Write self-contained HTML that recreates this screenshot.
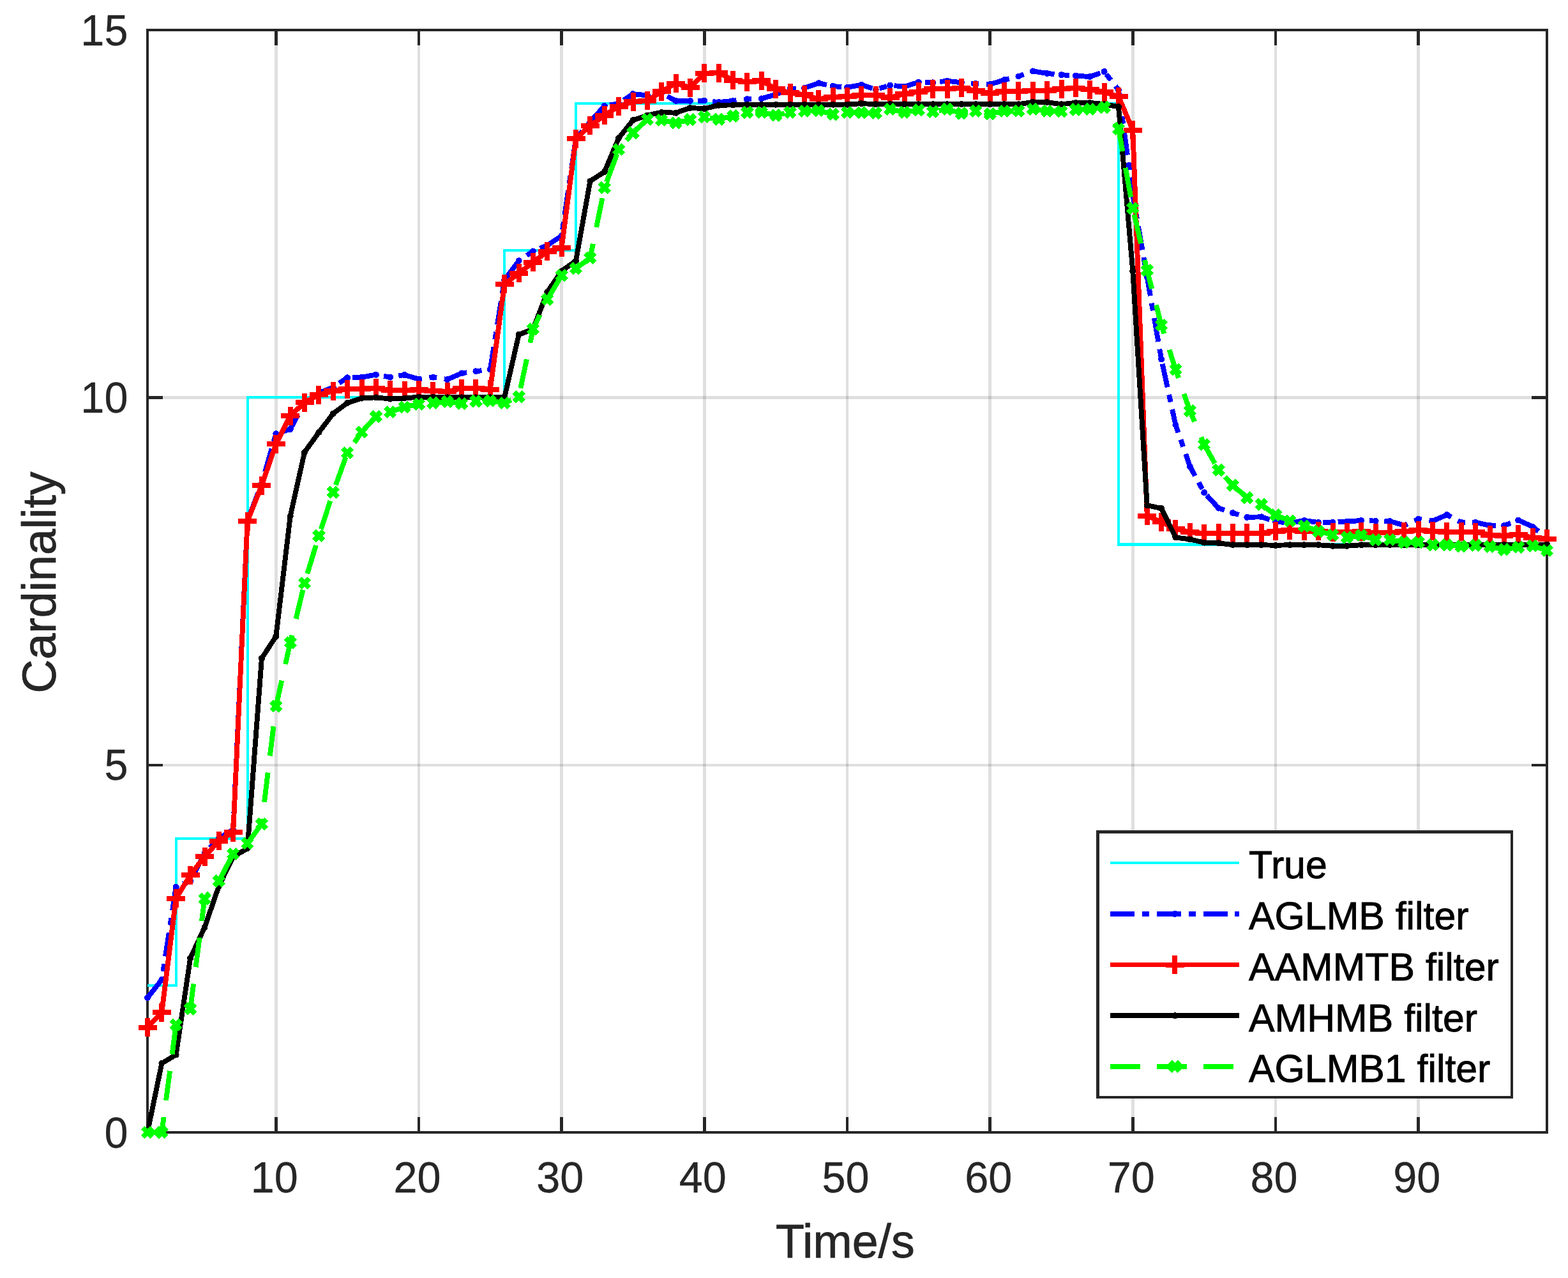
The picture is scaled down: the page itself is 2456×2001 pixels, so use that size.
<!DOCTYPE html>
<html lang="en">
<head>
<meta charset="utf-8">
<title>Cardinality versus Time</title>
<style>
html,body{margin:0;padding:0;background:#fff;}
body{width:2456px;height:2001px;overflow:hidden;}
svg{display:block;}
text{font-family:"Liberation Sans", sans-serif;}
.tk{font-size:66.67px;fill:#262626;stroke:#262626;stroke-width:0.3px;}
.lb{font-size:73.5px;fill:#262626;stroke:#262626;stroke-width:0.8px;}
.lg{font-size:60.8px;fill:#000;stroke:#000;stroke-width:0.9px;}
</style>
</head>
<body>
<svg width="2456" height="2001" viewBox="0 0 2456 2001">
<rect width="2456" height="2001" fill="#fff"/>
<g id="grid" fill="#262626" fill-opacity="0.15">
<path d="M430 71H435V1749H430zM654 71H658V1749H654zM877 71H882V1749H877zM1101 71H1106V1749H1101zM1325 71H1329V1749H1325zM1548 71H1553V1749H1548zM1772 71H1777V1749H1772zM1996 71H2000V1749H1996zM2219 71H2224V1749H2219z"/>
<path d="M255 1196H2399V1200H255zM255 620H2399V625H255z"/>
</g>
<g id="axes" fill="#262626">
<path fill-rule="evenodd" d="M229 45H2425V1775H229zM233 49V1771H2421V49z"/>
<path d="M430 1749H435V1773H430zM430 47H435V71H430zM654 1749H658V1773H654zM654 47H658V71H654zM877 1749H882V1773H877zM877 47H882V71H877zM1101 1749H1106V1773H1101zM1101 47H1106V71H1101zM1325 1749H1329V1773H1325zM1325 47H1329V71H1325zM1548 1749H1553V1773H1548zM1548 47H1553V71H1548zM1772 1749H1777V1773H1772zM1772 47H1777V71H1772zM1996 1749H2000V1773H1996zM1996 47H2000V71H1996zM2219 1749H2224V1773H2219zM2219 47H2224V71H2219zM231 1196H255V1200H231zM2399 1196H2423V1200H2399zM231 620H255V625H231zM2399 620H2423V625H2399z"/>
</g>
<g id="series" fill="none" stroke-linejoin="round" shape-rendering="crispEdges">
<polyline id="true" stroke="#00ffff" stroke-width="4.2" stroke-linejoin="miter" points="231,1542.9 275.7,1542.9 275.7,1312.7 387.6,1312.7 387.6,622.3 790.2,622.3 790.2,392.2 902,392.2 902,162.1 1752,162.1 1752,852.5 2423,852.5"/>
<g id="aglmb">
<polyline stroke="#0000ff" stroke-width="7.9" stroke-dasharray="37.5 11.8 11.8 11.8" stroke-dashoffset="0" points="231,1562.2 253.4,1534 275.7,1388.8 298.1,1379.5 320.5,1335.7 342.8,1312.7 365.2,1298.9 387.6,815.6"/>
<polyline stroke="#0000ff" stroke-width="7.9" stroke-dasharray="37.5 11.8 11.8 11.8" stroke-dashoffset="64" points="387.6,815.6 409.9,757 432.3,679.2 454.7,671.9 477,630.4 499.4,615.4 521.8,606.2 544.1,591.3 566.5,590.6 588.9,586.7 611.2,590.6 633.6,587 656,593.6 678.3,590.6 700.7,594.1 723.1,584.4 745.4,581.3 767.8,578.6 790.2,438.2"/>
<polyline stroke="#0000ff" stroke-width="7.9" stroke-dasharray="37.5 11.8 11.8 11.8" stroke-dashoffset="69.9" points="790.2,438.2 812.6,408.3 834.9,393.4 857.3,384.1 879.7,369.2 902,217.3"/>
<polyline stroke="#0000ff" stroke-width="7.9" stroke-dasharray="37.5 11.8 11.8 11.8" stroke-dashoffset="45.7" points="902,217.3 924.4,190.8 946.8,165.9 969.1,162.1 991.5,147.1 1013.9,149.4 1036.2,146 1058.6,157.9 1081,157.9 1103.3,157.5 1125.7,160.1 1148.1,157.9 1170.4,155.2 1192.8,154.4 1215.2,147.9 1237.5,139.1 1259.9,137.9 1282.3,130.2 1304.6,135 1327,136.8 1349.4,132.8 1371.7,140.2 1394.1,133.6 1416.5,135.6 1438.8,128.7 1461.2,129.3 1483.6,126.7 1505.9,129.3 1528.3,131 1550.7,132.1 1573,125.2 1595.4,119.5 1617.8,111.4 1640.1,114.9 1662.5,117.2 1684.9,118.6 1707.2,120.1 1729.6,112.1 1752,140.8 1774.3,304.7"/>
<polyline stroke="#0000ff" stroke-width="7.9" stroke-dasharray="37.5 11.8 11.8 11.8" stroke-dashoffset="22.5" points="1774.3,304.7 1796.7,433.6 1819.1,562.5 1841.4,665.4 1863.8,730.2 1886.2,771.2 1908.6,795.6 1930.9,803 1953.3,809.9 1975.7,809.3 1998,816.5 2020.4,819.1 2042.8,815 2065.1,817.9 2087.5,817.9 2109.9,816.5 2132.2,815 2154.6,815.6 2177,816.1 2199.3,822.5 2221.7,812.9 2244.1,815.6 2266.4,806.1 2288.8,817.9 2311.2,817.9 2333.5,822.9 2355.9,822.9 2378.3,814.5 2400.6,824.5 2423,842.5"/>
</g>
<path fill="#0000ff" stroke="none" d="M226 1562.2a5 5 0 1 0 10 0a5 5 0 1 0 -10 0zM248.4 1534a5 5 0 1 0 10 0a5 5 0 1 0 -10 0zM270.7 1388.8a5 5 0 1 0 10 0a5 5 0 1 0 -10 0zM293.1 1379.5a5 5 0 1 0 10 0a5 5 0 1 0 -10 0zM315.5 1335.7a5 5 0 1 0 10 0a5 5 0 1 0 -10 0zM337.8 1312.7a5 5 0 1 0 10 0a5 5 0 1 0 -10 0zM360.2 1298.9a5 5 0 1 0 10 0a5 5 0 1 0 -10 0zM382.6 815.6a5 5 0 1 0 10 0a5 5 0 1 0 -10 0zM404.9 757a5 5 0 1 0 10 0a5 5 0 1 0 -10 0zM427.3 679.2a5 5 0 1 0 10 0a5 5 0 1 0 -10 0zM449.7 671.9a5 5 0 1 0 10 0a5 5 0 1 0 -10 0zM472 630.4a5 5 0 1 0 10 0a5 5 0 1 0 -10 0zM494.4 615.4a5 5 0 1 0 10 0a5 5 0 1 0 -10 0zM516.8 606.2a5 5 0 1 0 10 0a5 5 0 1 0 -10 0zM539.1 591.3a5 5 0 1 0 10 0a5 5 0 1 0 -10 0zM561.5 590.6a5 5 0 1 0 10 0a5 5 0 1 0 -10 0zM583.9 586.7a5 5 0 1 0 10 0a5 5 0 1 0 -10 0zM606.2 590.6a5 5 0 1 0 10 0a5 5 0 1 0 -10 0zM628.6 587a5 5 0 1 0 10 0a5 5 0 1 0 -10 0zM651 593.6a5 5 0 1 0 10 0a5 5 0 1 0 -10 0zM673.3 590.6a5 5 0 1 0 10 0a5 5 0 1 0 -10 0zM695.7 594.1a5 5 0 1 0 10 0a5 5 0 1 0 -10 0zM718.1 584.4a5 5 0 1 0 10 0a5 5 0 1 0 -10 0zM740.4 581.3a5 5 0 1 0 10 0a5 5 0 1 0 -10 0zM762.8 578.6a5 5 0 1 0 10 0a5 5 0 1 0 -10 0zM785.2 438.2a5 5 0 1 0 10 0a5 5 0 1 0 -10 0zM807.6 408.3a5 5 0 1 0 10 0a5 5 0 1 0 -10 0zM829.9 393.4a5 5 0 1 0 10 0a5 5 0 1 0 -10 0zM852.3 384.1a5 5 0 1 0 10 0a5 5 0 1 0 -10 0zM874.7 369.2a5 5 0 1 0 10 0a5 5 0 1 0 -10 0zM897 217.3a5 5 0 1 0 10 0a5 5 0 1 0 -10 0zM919.4 190.8a5 5 0 1 0 10 0a5 5 0 1 0 -10 0zM941.8 165.9a5 5 0 1 0 10 0a5 5 0 1 0 -10 0zM964.1 162.1a5 5 0 1 0 10 0a5 5 0 1 0 -10 0zM986.5 147.1a5 5 0 1 0 10 0a5 5 0 1 0 -10 0zM1008.9 149.4a5 5 0 1 0 10 0a5 5 0 1 0 -10 0zM1031.2 146a5 5 0 1 0 10 0a5 5 0 1 0 -10 0zM1053.6 157.9a5 5 0 1 0 10 0a5 5 0 1 0 -10 0zM1076 157.9a5 5 0 1 0 10 0a5 5 0 1 0 -10 0zM1098.3 157.5a5 5 0 1 0 10 0a5 5 0 1 0 -10 0zM1120.7 160.1a5 5 0 1 0 10 0a5 5 0 1 0 -10 0zM1143.1 157.9a5 5 0 1 0 10 0a5 5 0 1 0 -10 0zM1165.4 155.2a5 5 0 1 0 10 0a5 5 0 1 0 -10 0zM1187.8 154.4a5 5 0 1 0 10 0a5 5 0 1 0 -10 0zM1210.2 147.9a5 5 0 1 0 10 0a5 5 0 1 0 -10 0zM1232.5 139.1a5 5 0 1 0 10 0a5 5 0 1 0 -10 0zM1254.9 137.9a5 5 0 1 0 10 0a5 5 0 1 0 -10 0zM1277.3 130.2a5 5 0 1 0 10 0a5 5 0 1 0 -10 0zM1299.6 135a5 5 0 1 0 10 0a5 5 0 1 0 -10 0zM1322 136.8a5 5 0 1 0 10 0a5 5 0 1 0 -10 0zM1344.4 132.8a5 5 0 1 0 10 0a5 5 0 1 0 -10 0zM1366.7 140.2a5 5 0 1 0 10 0a5 5 0 1 0 -10 0zM1389.1 133.6a5 5 0 1 0 10 0a5 5 0 1 0 -10 0zM1411.5 135.6a5 5 0 1 0 10 0a5 5 0 1 0 -10 0zM1433.8 128.7a5 5 0 1 0 10 0a5 5 0 1 0 -10 0zM1456.2 129.3a5 5 0 1 0 10 0a5 5 0 1 0 -10 0zM1478.6 126.7a5 5 0 1 0 10 0a5 5 0 1 0 -10 0zM1500.9 129.3a5 5 0 1 0 10 0a5 5 0 1 0 -10 0zM1523.3 131a5 5 0 1 0 10 0a5 5 0 1 0 -10 0zM1545.7 132.1a5 5 0 1 0 10 0a5 5 0 1 0 -10 0zM1568 125.2a5 5 0 1 0 10 0a5 5 0 1 0 -10 0zM1590.4 119.5a5 5 0 1 0 10 0a5 5 0 1 0 -10 0zM1612.8 111.4a5 5 0 1 0 10 0a5 5 0 1 0 -10 0zM1635.1 114.9a5 5 0 1 0 10 0a5 5 0 1 0 -10 0zM1657.5 117.2a5 5 0 1 0 10 0a5 5 0 1 0 -10 0zM1679.9 118.6a5 5 0 1 0 10 0a5 5 0 1 0 -10 0zM1702.2 120.1a5 5 0 1 0 10 0a5 5 0 1 0 -10 0zM1724.6 112.1a5 5 0 1 0 10 0a5 5 0 1 0 -10 0zM1747 140.8a5 5 0 1 0 10 0a5 5 0 1 0 -10 0zM1769.3 304.7a5 5 0 1 0 10 0a5 5 0 1 0 -10 0zM1791.7 433.6a5 5 0 1 0 10 0a5 5 0 1 0 -10 0zM1814.1 562.5a5 5 0 1 0 10 0a5 5 0 1 0 -10 0zM1836.4 665.4a5 5 0 1 0 10 0a5 5 0 1 0 -10 0zM1858.8 730.2a5 5 0 1 0 10 0a5 5 0 1 0 -10 0zM1881.2 771.2a5 5 0 1 0 10 0a5 5 0 1 0 -10 0zM1903.6 795.6a5 5 0 1 0 10 0a5 5 0 1 0 -10 0zM1925.9 803a5 5 0 1 0 10 0a5 5 0 1 0 -10 0zM1948.3 809.9a5 5 0 1 0 10 0a5 5 0 1 0 -10 0zM1970.7 809.3a5 5 0 1 0 10 0a5 5 0 1 0 -10 0zM1993 816.5a5 5 0 1 0 10 0a5 5 0 1 0 -10 0zM2015.4 819.1a5 5 0 1 0 10 0a5 5 0 1 0 -10 0zM2037.8 815a5 5 0 1 0 10 0a5 5 0 1 0 -10 0zM2060.1 817.9a5 5 0 1 0 10 0a5 5 0 1 0 -10 0zM2082.5 817.9a5 5 0 1 0 10 0a5 5 0 1 0 -10 0zM2104.9 816.5a5 5 0 1 0 10 0a5 5 0 1 0 -10 0zM2127.2 815a5 5 0 1 0 10 0a5 5 0 1 0 -10 0zM2149.6 815.6a5 5 0 1 0 10 0a5 5 0 1 0 -10 0zM2172 816.1a5 5 0 1 0 10 0a5 5 0 1 0 -10 0zM2194.3 822.5a5 5 0 1 0 10 0a5 5 0 1 0 -10 0zM2216.7 812.9a5 5 0 1 0 10 0a5 5 0 1 0 -10 0zM2239.1 815.6a5 5 0 1 0 10 0a5 5 0 1 0 -10 0zM2261.4 806.1a5 5 0 1 0 10 0a5 5 0 1 0 -10 0zM2283.8 817.9a5 5 0 1 0 10 0a5 5 0 1 0 -10 0zM2306.2 817.9a5 5 0 1 0 10 0a5 5 0 1 0 -10 0zM2328.5 822.9a5 5 0 1 0 10 0a5 5 0 1 0 -10 0zM2350.9 822.9a5 5 0 1 0 10 0a5 5 0 1 0 -10 0zM2373.3 814.5a5 5 0 1 0 10 0a5 5 0 1 0 -10 0zM2395.6 824.5a5 5 0 1 0 10 0a5 5 0 1 0 -10 0zM2418 842.5a5 5 0 1 0 10 0a5 5 0 1 0 -10 0z"/>
<polyline id="aammtb" stroke="#ff0000" stroke-width="7.9" points="231,1608.6 253.4,1585 275.7,1406.6 298.1,1370.3 320.5,1341 342.8,1316.8 365.2,1303.2 387.6,816.1 409.9,760 432.3,695.1 454.7,651.1 477,630.2 499.4,618 521.8,612.2 544.1,609.3 566.5,608.5 588.9,607.8 611.2,610.8 633.6,611.4 656,610.3 678.3,612 700.7,613.1 723.1,608.1 745.4,608.1 767.8,609.7 790.2,444.9 812.6,427.9 834.9,410.6 857.3,393.8 879.7,387.6 902,217.1 924.4,196.8 946.8,180.7 969.1,166.7 991.5,159.4 1013.9,157.7 1036.2,143.2 1058.6,130.5 1081,137.1 1103.3,114.9 1125.7,114 1148.1,125.5 1170.4,128.4 1192.8,126.4 1215.2,139.1 1237.5,145.3 1259.9,148.3 1282.3,155.2 1304.6,151.9 1327,151 1349.4,149.1 1371.7,149.4 1394.1,152.9 1416.5,147.1 1438.8,143.7 1461.2,139.1 1483.6,139.1 1505.9,137.9 1528.3,141.9 1550.7,146.2 1573,143.4 1595.4,142.5 1617.8,142.3 1640.1,141.9 1662.5,139.1 1684.9,137.9 1707.2,140.2 1729.6,144.2 1752,151 1774.3,203.7 1796.7,807.6 1819.1,817.3 1841.4,828 1863.8,833 1886.2,835.2 1908.6,834.5 1930.9,834.5 1953.3,834.5 1975.7,834.5 1998,831.8 2020.4,830.1 2042.8,831.8 2065.1,831.8 2087.5,833.1 2109.9,833.1 2132.2,832.3 2154.6,834.1 2177,834.1 2199.3,832.1 2221.7,830.1 2244.1,831.8 2266.4,832.6 2288.8,832.6 2311.2,833 2333.5,837.5 2355.9,838.7 2378.3,836.7 2400.6,841.7 2423,843.8"/>
<path stroke="#ff0000" stroke-width="8.0" d="M216.5 1608.6h29M231 1594.1v29M238.9 1585h29M253.4 1570.5v29M261.2 1406.6h29M275.7 1392.1v29M283.6 1370.3h29M298.1 1355.8v29M306 1341h29M320.5 1326.5v29M328.3 1316.8h29M342.8 1302.3v29M350.7 1303.2h29M365.2 1288.7v29M373.1 816.1h29M387.6 801.6v29M395.4 760h29M409.9 745.5v29M417.8 695.1h29M432.3 680.6v29M440.2 651.1h29M454.7 636.6v29M462.5 630.2h29M477 615.7v29M484.9 618h29M499.4 603.5v29M507.3 612.2h29M521.8 597.7v29M529.6 609.3h29M544.1 594.8v29M552 608.5h29M566.5 594v29M574.4 607.8h29M588.9 593.3v29M596.7 610.8h29M611.2 596.3v29M619.1 611.4h29M633.6 596.9v29M641.5 610.3h29M656 595.8v29M663.8 612h29M678.3 597.5v29M686.2 613.1h29M700.7 598.6v29M708.6 608.1h29M723.1 593.6v29M730.9 608.1h29M745.4 593.6v29M753.3 609.7h29M767.8 595.2v29M775.7 444.9h29M790.2 430.4v29M798.1 427.9h29M812.6 413.4v29M820.4 410.6h29M834.9 396.1v29M842.8 393.8h29M857.3 379.3v29M865.2 387.6h29M879.7 373.1v29M887.5 217.1h29M902 202.6v29M909.9 196.8h29M924.4 182.3v29M932.3 180.7h29M946.8 166.2v29M954.6 166.7h29M969.1 152.2v29M977 159.4h29M991.5 144.9v29M999.4 157.7h29M1013.9 143.2v29M1021.7 143.2h29M1036.2 128.7v29M1044.1 130.5h29M1058.6 116v29M1066.5 137.1h29M1081 122.6v29M1088.8 114.9h29M1103.3 100.4v29M1111.2 114h29M1125.7 99.5v29M1133.6 125.5h29M1148.1 111v29M1155.9 128.4h29M1170.4 113.9v29M1178.3 126.4h29M1192.8 111.9v29M1200.7 139.1h29M1215.2 124.6v29M1223 145.3h29M1237.5 130.8v29M1245.4 148.3h29M1259.9 133.8v29M1267.8 155.2h29M1282.3 140.7v29M1290.1 151.9h29M1304.6 137.4v29M1312.5 151h29M1327 136.5v29M1334.9 149.1h29M1349.4 134.6v29M1357.2 149.4h29M1371.7 134.9v29M1379.6 152.9h29M1394.1 138.4v29M1402 147.1h29M1416.5 132.6v29M1424.3 143.7h29M1438.8 129.2v29M1446.7 139.1h29M1461.2 124.6v29M1469.1 139.1h29M1483.6 124.6v29M1491.4 137.9h29M1505.9 123.4v29M1513.8 141.9h29M1528.3 127.4v29M1536.2 146.2h29M1550.7 131.7v29M1558.5 143.4h29M1573 128.9v29M1580.9 142.5h29M1595.4 128v29M1603.3 142.3h29M1617.8 127.8v29M1625.6 141.9h29M1640.1 127.4v29M1648 139.1h29M1662.5 124.6v29M1670.4 137.9h29M1684.9 123.4v29M1692.7 140.2h29M1707.2 125.7v29M1715.1 144.2h29M1729.6 129.7v29M1737.5 151h29M1752 136.5v29M1759.8 203.7h29M1774.3 189.2v29M1782.2 807.6h29M1796.7 793.1v29M1804.6 817.3h29M1819.1 802.8v29M1826.9 828h29M1841.4 813.5v29M1849.3 833h29M1863.8 818.5v29M1871.7 835.2h29M1886.2 820.7v29M1894.1 834.5h29M1908.6 820v29M1916.4 834.5h29M1930.9 820v29M1938.8 834.5h29M1953.3 820v29M1961.2 834.5h29M1975.7 820v29M1983.5 831.8h29M1998 817.3v29M2005.9 830.1h29M2020.4 815.6v29M2028.3 831.8h29M2042.8 817.3v29M2050.6 831.8h29M2065.1 817.3v29M2073 833.1h29M2087.5 818.6v29M2095.4 833.1h29M2109.9 818.6v29M2117.7 832.3h29M2132.2 817.8v29M2140.1 834.1h29M2154.6 819.6v29M2162.5 834.1h29M2177 819.6v29M2184.8 832.1h29M2199.3 817.6v29M2207.2 830.1h29M2221.7 815.6v29M2229.6 831.8h29M2244.1 817.3v29M2251.9 832.6h29M2266.4 818.1v29M2274.3 832.6h29M2288.8 818.1v29M2296.7 833h29M2311.2 818.5v29M2319 837.5h29M2333.5 823v29M2341.4 838.7h29M2355.9 824.2v29M2363.8 836.7h29M2378.3 822.2v29M2386.1 841.7h29M2400.6 827.2v29M2408.5 843.8h29M2423 829.3v29"/>
<polyline id="amhmb" stroke="#000000" stroke-width="7.9" points="231,1773 253.4,1664.8 275.7,1651.5 298.1,1500.3 320.5,1452 342.8,1387.5 365.2,1341.5 387.6,1328.4 409.9,1030.8 432.3,996.3 454.7,808.2 477,708.1 499.4,677 521.8,647.6 544.1,630.8 566.5,623.5 588.9,622.3 611.2,624.6 633.6,623.5 656,621.6 678.3,621.6 700.7,622.3 723.1,622.3 745.4,622.3 767.8,622.3 790.2,622.3 812.6,524 834.9,515.3 857.3,457.2 879.7,424.4 902,408.3 924.4,283.5 946.8,269.1 969.1,216.1 991.5,188.2 1013.9,180.5 1036.2,175.9 1058.6,176.7 1081,169 1103.3,170.1 1125.7,164.8 1148.1,164.4 1170.4,163.7 1192.8,163.7 1215.2,163.7 1237.5,163.7 1259.9,163.7 1282.3,163.7 1304.6,163.7 1327,163.7 1349.4,162.1 1371.7,163.2 1394.1,163.2 1416.5,163.2 1438.8,163.2 1461.2,163.2 1483.6,163.2 1505.9,163.2 1528.3,163.2 1550.7,163.2 1573,163.2 1595.4,163.2 1617.8,159.8 1640.1,160.1 1662.5,163.2 1684.9,160.9 1707.2,160.9 1729.6,163.2 1752,167.2 1774.3,424.4 1796.7,791.1 1819.1,796.1 1841.4,841.5 1863.8,844.4 1886.2,849.6 1908.6,850.2 1930.9,853.2 1953.3,853.2 1975.7,853.2 1998,853.8 2020.4,853.2 2042.8,853.2 2065.1,853.2 2087.5,854.8 2109.9,854.8 2132.2,853.2 2154.6,853.2 2177,853.2 2199.3,853.2 2221.7,853.2 2244.1,853.2 2266.4,853.2 2288.8,853.2 2311.2,853.2 2333.5,853.2 2355.9,853.2 2378.3,853.2 2400.6,853.2 2423,852.5"/>
<path fill="#000000" stroke="none" d="M226 1773a5 5 0 1 0 10 0a5 5 0 1 0 -10 0zM248.4 1664.8a5 5 0 1 0 10 0a5 5 0 1 0 -10 0zM270.7 1651.5a5 5 0 1 0 10 0a5 5 0 1 0 -10 0zM293.1 1500.3a5 5 0 1 0 10 0a5 5 0 1 0 -10 0zM315.5 1452a5 5 0 1 0 10 0a5 5 0 1 0 -10 0zM337.8 1387.5a5 5 0 1 0 10 0a5 5 0 1 0 -10 0zM360.2 1341.5a5 5 0 1 0 10 0a5 5 0 1 0 -10 0zM382.6 1328.4a5 5 0 1 0 10 0a5 5 0 1 0 -10 0zM404.9 1030.8a5 5 0 1 0 10 0a5 5 0 1 0 -10 0zM427.3 996.3a5 5 0 1 0 10 0a5 5 0 1 0 -10 0zM449.7 808.2a5 5 0 1 0 10 0a5 5 0 1 0 -10 0zM472 708.1a5 5 0 1 0 10 0a5 5 0 1 0 -10 0zM494.4 677a5 5 0 1 0 10 0a5 5 0 1 0 -10 0zM516.8 647.6a5 5 0 1 0 10 0a5 5 0 1 0 -10 0zM539.1 630.8a5 5 0 1 0 10 0a5 5 0 1 0 -10 0zM561.5 623.5a5 5 0 1 0 10 0a5 5 0 1 0 -10 0zM583.9 622.3a5 5 0 1 0 10 0a5 5 0 1 0 -10 0zM606.2 624.6a5 5 0 1 0 10 0a5 5 0 1 0 -10 0zM628.6 623.5a5 5 0 1 0 10 0a5 5 0 1 0 -10 0zM651 621.6a5 5 0 1 0 10 0a5 5 0 1 0 -10 0zM673.3 621.6a5 5 0 1 0 10 0a5 5 0 1 0 -10 0zM695.7 622.3a5 5 0 1 0 10 0a5 5 0 1 0 -10 0zM718.1 622.3a5 5 0 1 0 10 0a5 5 0 1 0 -10 0zM740.4 622.3a5 5 0 1 0 10 0a5 5 0 1 0 -10 0zM762.8 622.3a5 5 0 1 0 10 0a5 5 0 1 0 -10 0zM785.2 622.3a5 5 0 1 0 10 0a5 5 0 1 0 -10 0zM807.6 524a5 5 0 1 0 10 0a5 5 0 1 0 -10 0zM829.9 515.3a5 5 0 1 0 10 0a5 5 0 1 0 -10 0zM852.3 457.2a5 5 0 1 0 10 0a5 5 0 1 0 -10 0zM874.7 424.4a5 5 0 1 0 10 0a5 5 0 1 0 -10 0zM897 408.3a5 5 0 1 0 10 0a5 5 0 1 0 -10 0zM919.4 283.5a5 5 0 1 0 10 0a5 5 0 1 0 -10 0zM941.8 269.1a5 5 0 1 0 10 0a5 5 0 1 0 -10 0zM964.1 216.1a5 5 0 1 0 10 0a5 5 0 1 0 -10 0zM986.5 188.2a5 5 0 1 0 10 0a5 5 0 1 0 -10 0zM1008.9 180.5a5 5 0 1 0 10 0a5 5 0 1 0 -10 0zM1031.2 175.9a5 5 0 1 0 10 0a5 5 0 1 0 -10 0zM1053.6 176.7a5 5 0 1 0 10 0a5 5 0 1 0 -10 0zM1076 169a5 5 0 1 0 10 0a5 5 0 1 0 -10 0zM1098.3 170.1a5 5 0 1 0 10 0a5 5 0 1 0 -10 0zM1120.7 164.8a5 5 0 1 0 10 0a5 5 0 1 0 -10 0zM1143.1 164.4a5 5 0 1 0 10 0a5 5 0 1 0 -10 0zM1165.4 163.7a5 5 0 1 0 10 0a5 5 0 1 0 -10 0zM1187.8 163.7a5 5 0 1 0 10 0a5 5 0 1 0 -10 0zM1210.2 163.7a5 5 0 1 0 10 0a5 5 0 1 0 -10 0zM1232.5 163.7a5 5 0 1 0 10 0a5 5 0 1 0 -10 0zM1254.9 163.7a5 5 0 1 0 10 0a5 5 0 1 0 -10 0zM1277.3 163.7a5 5 0 1 0 10 0a5 5 0 1 0 -10 0zM1299.6 163.7a5 5 0 1 0 10 0a5 5 0 1 0 -10 0zM1322 163.7a5 5 0 1 0 10 0a5 5 0 1 0 -10 0zM1344.4 162.1a5 5 0 1 0 10 0a5 5 0 1 0 -10 0zM1366.7 163.2a5 5 0 1 0 10 0a5 5 0 1 0 -10 0zM1389.1 163.2a5 5 0 1 0 10 0a5 5 0 1 0 -10 0zM1411.5 163.2a5 5 0 1 0 10 0a5 5 0 1 0 -10 0zM1433.8 163.2a5 5 0 1 0 10 0a5 5 0 1 0 -10 0zM1456.2 163.2a5 5 0 1 0 10 0a5 5 0 1 0 -10 0zM1478.6 163.2a5 5 0 1 0 10 0a5 5 0 1 0 -10 0zM1500.9 163.2a5 5 0 1 0 10 0a5 5 0 1 0 -10 0zM1523.3 163.2a5 5 0 1 0 10 0a5 5 0 1 0 -10 0zM1545.7 163.2a5 5 0 1 0 10 0a5 5 0 1 0 -10 0zM1568 163.2a5 5 0 1 0 10 0a5 5 0 1 0 -10 0zM1590.4 163.2a5 5 0 1 0 10 0a5 5 0 1 0 -10 0zM1612.8 159.8a5 5 0 1 0 10 0a5 5 0 1 0 -10 0zM1635.1 160.1a5 5 0 1 0 10 0a5 5 0 1 0 -10 0zM1657.5 163.2a5 5 0 1 0 10 0a5 5 0 1 0 -10 0zM1679.9 160.9a5 5 0 1 0 10 0a5 5 0 1 0 -10 0zM1702.2 160.9a5 5 0 1 0 10 0a5 5 0 1 0 -10 0zM1724.6 163.2a5 5 0 1 0 10 0a5 5 0 1 0 -10 0zM1747 167.2a5 5 0 1 0 10 0a5 5 0 1 0 -10 0zM1769.3 424.4a5 5 0 1 0 10 0a5 5 0 1 0 -10 0zM1791.7 791.1a5 5 0 1 0 10 0a5 5 0 1 0 -10 0zM1814.1 796.1a5 5 0 1 0 10 0a5 5 0 1 0 -10 0zM1836.4 841.5a5 5 0 1 0 10 0a5 5 0 1 0 -10 0zM1858.8 844.4a5 5 0 1 0 10 0a5 5 0 1 0 -10 0zM1881.2 849.6a5 5 0 1 0 10 0a5 5 0 1 0 -10 0zM1903.6 850.2a5 5 0 1 0 10 0a5 5 0 1 0 -10 0zM1925.9 853.2a5 5 0 1 0 10 0a5 5 0 1 0 -10 0zM1948.3 853.2a5 5 0 1 0 10 0a5 5 0 1 0 -10 0zM1970.7 853.2a5 5 0 1 0 10 0a5 5 0 1 0 -10 0zM1993 853.8a5 5 0 1 0 10 0a5 5 0 1 0 -10 0zM2015.4 853.2a5 5 0 1 0 10 0a5 5 0 1 0 -10 0zM2037.8 853.2a5 5 0 1 0 10 0a5 5 0 1 0 -10 0zM2060.1 853.2a5 5 0 1 0 10 0a5 5 0 1 0 -10 0zM2082.5 854.8a5 5 0 1 0 10 0a5 5 0 1 0 -10 0zM2104.9 854.8a5 5 0 1 0 10 0a5 5 0 1 0 -10 0zM2127.2 853.2a5 5 0 1 0 10 0a5 5 0 1 0 -10 0zM2149.6 853.2a5 5 0 1 0 10 0a5 5 0 1 0 -10 0zM2172 853.2a5 5 0 1 0 10 0a5 5 0 1 0 -10 0zM2194.3 853.2a5 5 0 1 0 10 0a5 5 0 1 0 -10 0zM2216.7 853.2a5 5 0 1 0 10 0a5 5 0 1 0 -10 0zM2239.1 853.2a5 5 0 1 0 10 0a5 5 0 1 0 -10 0zM2261.4 853.2a5 5 0 1 0 10 0a5 5 0 1 0 -10 0zM2283.8 853.2a5 5 0 1 0 10 0a5 5 0 1 0 -10 0zM2306.2 853.2a5 5 0 1 0 10 0a5 5 0 1 0 -10 0zM2328.5 853.2a5 5 0 1 0 10 0a5 5 0 1 0 -10 0zM2350.9 853.2a5 5 0 1 0 10 0a5 5 0 1 0 -10 0zM2373.3 853.2a5 5 0 1 0 10 0a5 5 0 1 0 -10 0zM2395.6 853.2a5 5 0 1 0 10 0a5 5 0 1 0 -10 0zM2418 852.5a5 5 0 1 0 10 0a5 5 0 1 0 -10 0z"/>
<g id="aglmb1">
<polyline stroke="#00ff00" stroke-width="7.9" stroke-dasharray="46.6 26.3" stroke-dashoffset="0" points="231,1773 253.4,1773 275.7,1604.7 298.1,1579.5 320.5,1407.3 342.8,1379.5 365.2,1337 387.6,1320.4 409.9,1290.2 432.3,1105.6 454.7,1006.1 477,912.9 499.4,838.9 521.8,770.8 544.1,708.9 566.5,676.4"/>
<polyline stroke="#00ff00" stroke-width="7.9" stroke-dasharray="46.6 26.3" stroke-dashoffset="15.7" points="566.5,676.4 588.9,652.5 611.2,645 633.6,637.4 656,632.7 678.3,630.8 700.7,628.9 723.1,631.8 745.4,628.1 767.8,627.5 790.2,631.1 812.6,621.2 834.9,515.3 857.3,468.7 879.7,431.3 902,420.4 924.4,403.7 946.8,293.8 969.1,234.3 991.5,208.1 1013.9,186.8 1036.2,188 1058.6,192.6 1081,187.4 1103.3,183.1 1125.7,186.8 1148.1,181.6 1170.4,175.9 1192.8,175.9 1215.2,180.5 1237.5,175.9 1259.9,173.9 1282.3,173.1 1304.6,178.9 1327,175.9 1349.4,176.3 1371.7,177 1394.1,170.9 1416.5,175.9 1438.8,172.4 1461.2,174.7 1483.6,170.9 1505.9,177.4 1528.3,173.8 1550.7,178.2 1573,173.8 1595.4,173.8 1617.8,170.9 1640.1,173.8 1662.5,174.7 1684.9,171.6 1707.2,170.9 1729.6,168.1 1752,201.8 1774.3,326"/>
<polyline stroke="#00ff00" stroke-width="7.9" stroke-dasharray="46.6 26.3" stroke-dashoffset="62.7" points="1774.3,326 1796.7,423.3 1819.1,508.9 1841.4,578.6 1863.8,643.4 1886.2,696 1908.6,735.9 1930.9,759.6 1953.3,779.2 1975.7,789.9 1998,806.4 2020.4,815.6 2042.8,823.7 2065.1,831.8 2087.5,837.3 2109.9,841.5 2132.2,838.1 2154.6,845.2 2177,845.1 2199.3,849 2221.7,849 2244.1,853.2 2266.4,853.2 2288.8,855.3 2311.2,853.8 2333.5,855.9 2355.9,860.5 2378.3,856.7 2400.6,854.8 2423,861.9"/>
</g>
<path stroke="#00ff00" stroke-width="8.1" d="M223.7 1765.7l14.6 14.6M223.7 1780.3l14.6 -14.6M246.1 1765.7l14.6 14.6M246.1 1780.3l14.6 -14.6M268.4 1597.4l14.6 14.6M268.4 1612l14.6 -14.6M290.8 1572.2l14.6 14.6M290.8 1586.8l14.6 -14.6M313.2 1400l14.6 14.6M313.2 1414.6l14.6 -14.6M335.5 1372.2l14.6 14.6M335.5 1386.8l14.6 -14.6M357.9 1329.7l14.6 14.6M357.9 1344.3l14.6 -14.6M380.3 1313.1l14.6 14.6M380.3 1327.7l14.6 -14.6M402.6 1282.9l14.6 14.6M402.6 1297.5l14.6 -14.6M425 1098.3l14.6 14.6M425 1112.9l14.6 -14.6M447.4 998.8l14.6 14.6M447.4 1013.4l14.6 -14.6M469.7 905.6l14.6 14.6M469.7 920.2l14.6 -14.6M492.1 831.6l14.6 14.6M492.1 846.2l14.6 -14.6M514.5 763.5l14.6 14.6M514.5 778.1l14.6 -14.6M536.8 701.6l14.6 14.6M536.8 716.2l14.6 -14.6M559.2 669.1l14.6 14.6M559.2 683.7l14.6 -14.6M581.6 645.2l14.6 14.6M581.6 659.8l14.6 -14.6M603.9 637.7l14.6 14.6M603.9 652.3l14.6 -14.6M626.3 630.1l14.6 14.6M626.3 644.7l14.6 -14.6M648.7 625.4l14.6 14.6M648.7 640l14.6 -14.6M671 623.5l14.6 14.6M671 638.1l14.6 -14.6M693.4 621.6l14.6 14.6M693.4 636.2l14.6 -14.6M715.8 624.5l14.6 14.6M715.8 639.1l14.6 -14.6M738.1 620.8l14.6 14.6M738.1 635.4l14.6 -14.6M760.5 620.2l14.6 14.6M760.5 634.8l14.6 -14.6M782.9 623.8l14.6 14.6M782.9 638.4l14.6 -14.6M805.3 613.9l14.6 14.6M805.3 628.5l14.6 -14.6M827.6 508l14.6 14.6M827.6 522.6l14.6 -14.6M850 461.4l14.6 14.6M850 476l14.6 -14.6M872.4 424l14.6 14.6M872.4 438.6l14.6 -14.6M894.7 413.1l14.6 14.6M894.7 427.7l14.6 -14.6M917.1 396.4l14.6 14.6M917.1 411l14.6 -14.6M939.5 286.5l14.6 14.6M939.5 301.1l14.6 -14.6M961.8 227l14.6 14.6M961.8 241.6l14.6 -14.6M984.2 200.8l14.6 14.6M984.2 215.4l14.6 -14.6M1006.6 179.5l14.6 14.6M1006.6 194.1l14.6 -14.6M1028.9 180.7l14.6 14.6M1028.9 195.3l14.6 -14.6M1051.3 185.3l14.6 14.6M1051.3 199.9l14.6 -14.6M1073.7 180.1l14.6 14.6M1073.7 194.7l14.6 -14.6M1096 175.8l14.6 14.6M1096 190.4l14.6 -14.6M1118.4 179.5l14.6 14.6M1118.4 194.1l14.6 -14.6M1140.8 174.3l14.6 14.6M1140.8 188.9l14.6 -14.6M1163.1 168.6l14.6 14.6M1163.1 183.2l14.6 -14.6M1185.5 168.6l14.6 14.6M1185.5 183.2l14.6 -14.6M1207.9 173.2l14.6 14.6M1207.9 187.8l14.6 -14.6M1230.2 168.6l14.6 14.6M1230.2 183.2l14.6 -14.6M1252.6 166.6l14.6 14.6M1252.6 181.2l14.6 -14.6M1275 165.8l14.6 14.6M1275 180.4l14.6 -14.6M1297.3 171.6l14.6 14.6M1297.3 186.2l14.6 -14.6M1319.7 168.6l14.6 14.6M1319.7 183.2l14.6 -14.6M1342.1 169l14.6 14.6M1342.1 183.6l14.6 -14.6M1364.4 169.7l14.6 14.6M1364.4 184.3l14.6 -14.6M1386.8 163.6l14.6 14.6M1386.8 178.2l14.6 -14.6M1409.2 168.6l14.6 14.6M1409.2 183.2l14.6 -14.6M1431.5 165.1l14.6 14.6M1431.5 179.7l14.6 -14.6M1453.9 167.4l14.6 14.6M1453.9 182l14.6 -14.6M1476.3 163.6l14.6 14.6M1476.3 178.2l14.6 -14.6M1498.6 170.1l14.6 14.6M1498.6 184.7l14.6 -14.6M1521 166.5l14.6 14.6M1521 181.1l14.6 -14.6M1543.4 170.9l14.6 14.6M1543.4 185.5l14.6 -14.6M1565.7 166.5l14.6 14.6M1565.7 181.1l14.6 -14.6M1588.1 166.5l14.6 14.6M1588.1 181.1l14.6 -14.6M1610.5 163.6l14.6 14.6M1610.5 178.2l14.6 -14.6M1632.8 166.5l14.6 14.6M1632.8 181.1l14.6 -14.6M1655.2 167.4l14.6 14.6M1655.2 182l14.6 -14.6M1677.6 164.3l14.6 14.6M1677.6 178.9l14.6 -14.6M1699.9 163.6l14.6 14.6M1699.9 178.2l14.6 -14.6M1722.3 160.8l14.6 14.6M1722.3 175.4l14.6 -14.6M1744.7 194.5l14.6 14.6M1744.7 209.1l14.6 -14.6M1767 318.7l14.6 14.6M1767 333.3l14.6 -14.6M1789.4 416l14.6 14.6M1789.4 430.6l14.6 -14.6M1811.8 501.6l14.6 14.6M1811.8 516.2l14.6 -14.6M1834.1 571.3l14.6 14.6M1834.1 585.9l14.6 -14.6M1856.5 636.1l14.6 14.6M1856.5 650.7l14.6 -14.6M1878.9 688.7l14.6 14.6M1878.9 703.3l14.6 -14.6M1901.3 728.6l14.6 14.6M1901.3 743.2l14.6 -14.6M1923.6 752.3l14.6 14.6M1923.6 766.9l14.6 -14.6M1946 771.9l14.6 14.6M1946 786.5l14.6 -14.6M1968.4 782.6l14.6 14.6M1968.4 797.2l14.6 -14.6M1990.7 799.1l14.6 14.6M1990.7 813.7l14.6 -14.6M2013.1 808.3l14.6 14.6M2013.1 822.9l14.6 -14.6M2035.5 816.4l14.6 14.6M2035.5 831l14.6 -14.6M2057.8 824.5l14.6 14.6M2057.8 839.1l14.6 -14.6M2080.2 830l14.6 14.6M2080.2 844.6l14.6 -14.6M2102.6 834.2l14.6 14.6M2102.6 848.8l14.6 -14.6M2124.9 830.8l14.6 14.6M2124.9 845.4l14.6 -14.6M2147.3 837.9l14.6 14.6M2147.3 852.5l14.6 -14.6M2169.7 837.8l14.6 14.6M2169.7 852.4l14.6 -14.6M2192 841.7l14.6 14.6M2192 856.3l14.6 -14.6M2214.4 841.7l14.6 14.6M2214.4 856.3l14.6 -14.6M2236.8 845.9l14.6 14.6M2236.8 860.5l14.6 -14.6M2259.1 845.9l14.6 14.6M2259.1 860.5l14.6 -14.6M2281.5 848l14.6 14.6M2281.5 862.6l14.6 -14.6M2303.9 846.5l14.6 14.6M2303.9 861.1l14.6 -14.6M2326.2 848.6l14.6 14.6M2326.2 863.2l14.6 -14.6M2348.6 853.2l14.6 14.6M2348.6 867.8l14.6 -14.6M2371 849.4l14.6 14.6M2371 864l14.6 -14.6M2393.3 847.5l14.6 14.6M2393.3 862.1l14.6 -14.6M2415.7 854.6l14.6 14.6M2415.7 869.2l14.6 -14.6"/>
</g>
<g id="xticks" class="tk" text-anchor="middle">
<text transform="translate(429.8 1867) scale(1 1.035)">10</text>
<text transform="translate(653.5 1867) scale(1 1.035)">20</text>
<text transform="translate(877.2 1867) scale(1 1.035)">30</text>
<text transform="translate(1100.8 1867) scale(1 1.035)">40</text>
<text transform="translate(1324.5 1867) scale(1 1.035)">50</text>
<text transform="translate(1548.2 1867) scale(1 1.035)">60</text>
<text transform="translate(1771.8 1867) scale(1 1.035)">70</text>
<text transform="translate(1995.5 1867) scale(1 1.035)">80</text>
<text transform="translate(2219.2 1867) scale(1 1.035)">90</text>
</g>
<g id="yticks" class="tk" text-anchor="end">
<text transform="translate(200.5 1796.7) scale(1 1.035)">0</text>
<text transform="translate(200.5 1221.4) scale(1 1.035)">5</text>
<text transform="translate(200.5 646) scale(1 1.035)">10</text>
<text transform="translate(200.5 70.7) scale(1 1.035)">15</text>
</g>
<text class="lb" text-anchor="middle" x="1323.8" y="1968.5">Time/s</text>
<text class="lb" text-anchor="middle" transform="translate(86.6 912) rotate(-90)">Cardinality</text>
<g id="legend">
<path fill="#fff" d="M1717 1300H2370V1720H1717z"/>
<path fill="#262626" fill-rule="evenodd" d="M1717 1300H2370V1720H1717zM1722 1305V1716H2366V1305z"/>
<g fill="none" shape-rendering="crispEdges">
<path stroke="#00ffff" stroke-width="4.2" d="M1739.3 1351H1941.3"/>
<path stroke="#0000ff" stroke-width="7.9" stroke-dasharray="37.5 11.8 11.8 11.8" d="M1739.3 1430.9H1941.3"/>
<path fill="#0000ff" d="M1835.3 1430.9a5 5 0 1 0 10 0a5 5 0 1 0 -10 0z"/>
<path stroke="#ff0000" stroke-width="7.9" d="M1739.3 1510.5H1941.3"/>
<path stroke="#ff0000" stroke-width="8.0" d="M1825.8 1510.5h29M1840.3 1496v29"/>
<path stroke="#000000" stroke-width="7.9" d="M1739.3 1590.2H1941.3"/>
<path fill="#000000" d="M1835.3 1590.2a5 5 0 1 0 10 0a5 5 0 1 0 -10 0z"/>
<path stroke="#00ff00" stroke-width="7.9" stroke-dasharray="46.6 26.3" d="M1739.3 1669.9H1941.3"/>
<path stroke="#00ff00" stroke-width="8.1" d="M1833 1662.6l14.6 14.6M1833 1677.2l14.6 -14.6"/>
</g>
<text class="lg" transform="translate(1956 1375.4) scale(1 1.012)">True</text>
<text class="lg" transform="translate(1956 1455.3) scale(1 1.012)">AGLMB filter</text>
<text class="lg" transform="translate(1956 1534.9) scale(1 1.012)">AAMMTB filter</text>
<text class="lg" transform="translate(1956 1614.6) scale(1 1.012)">AMHMB filter</text>
<text class="lg" transform="translate(1956 1694.3) scale(1 1.012)">AGLMB1 filter</text>
</g>
</svg>
</body>
</html>
